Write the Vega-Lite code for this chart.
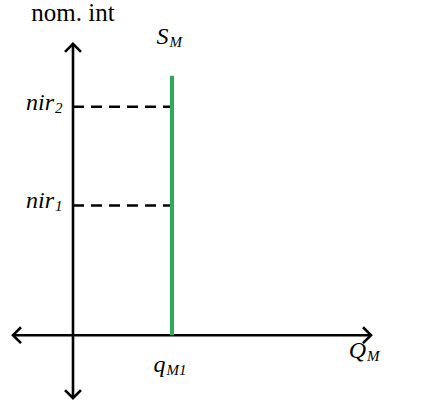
{
  "$schema": "https://vega.github.io/schema/vega-lite/v6.json",
  "width": 424,
  "height": 414,
  "autosize": {"type": "fit", "contains": "padding"},
  "padding": 0,
  "background": "white",
  "config": {"view": {"stroke": null}},
  "datasets": {
    "axes": [
      {"name": "vertical", "x": 0, "x2": 0, "y": -63, "y2": 292},
      {"name": "horizontal", "x": -60, "x2": 298, "y": 0, "y2": 0}
    ],
    "heads": [
      {"head": "top", "o": 1, "x": -8, "y": 284},
      {"head": "top", "o": 2, "x": 0, "y": 292},
      {"head": "top", "o": 3, "x": 8, "y": 284},
      {"head": "bottom", "o": 1, "x": -8, "y": -55},
      {"head": "bottom", "o": 2, "x": 0, "y": -63},
      {"head": "bottom", "o": 3, "x": 8, "y": -55},
      {"head": "left", "o": 1, "x": -52, "y": 8},
      {"head": "left", "o": 2, "x": -60, "y": 0},
      {"head": "left", "o": 3, "x": -52, "y": -8},
      {"head": "right", "o": 1, "x": 290, "y": 8},
      {"head": "right", "o": 2, "x": 298, "y": 0},
      {"head": "right", "o": 3, "x": 290, "y": -8}
    ],
    "dashes": [
      {"rate": "nir1", "x": 0, "x2": 99, "y": 130},
      {"rate": "nir2", "x": 0, "x2": 99, "y": 229}
    ],
    "supply": [
      {"curve": "S_M", "x": 99, "y": 0, "y2": 260}
    ],
    "labels": [
      {"main": "nir", "sub": "2", "x": -19, "y": 226},
      {"main": "nir", "sub": "1", "x": -19, "y": 127},
      {"main": "S", "sub": "M", "x": 95.5, "y": 292},
      {"main": "q", "sub": "M1", "x": 92.5, "y": -37},
      {"main": "Q", "sub": "M", "x": 293, "y": -23}
    ],
    "title": [
      {"text": "nom. int", "x": 0, "y": 315}
    ]
  },
  "layer": [
    {
      "data": {"name": "axes"},
      "mark": {"type": "rule", "color": "black", "strokeWidth": 2.6},
      "encoding": {
        "x": {"field": "x", "type": "quantitative", "scale": {"domain": [-73, 351], "nice": false, "zero": false}, "axis": null},
        "x2": {"field": "x2"},
        "y": {"field": "y", "type": "quantitative", "scale": {"domain": [-79, 335], "nice": false, "zero": false}, "axis": null},
        "y2": {"field": "y2"}
      }
    },
    {
      "data": {"name": "heads"},
      "mark": {"type": "line", "color": "black", "strokeWidth": 2.6, "strokeJoin": "miter"},
      "encoding": {
        "x": {"field": "x", "type": "quantitative"},
        "y": {"field": "y", "type": "quantitative"},
        "detail": {"field": "head"},
        "order": {"field": "o"}
      }
    },
    {
      "data": {"name": "dashes"},
      "mark": {"type": "rule", "color": "black", "strokeWidth": 2.4, "strokeDash": [11, 7]},
      "encoding": {
        "x": {"field": "x", "type": "quantitative"},
        "x2": {"field": "x2"},
        "y": {"field": "y", "type": "quantitative"}
      }
    },
    {
      "data": {"name": "supply"},
      "mark": {"type": "rule", "color": "#2eaa5a", "strokeWidth": 4},
      "encoding": {
        "x": {"field": "x", "type": "quantitative"},
        "y": {"field": "y", "type": "quantitative"},
        "y2": {"field": "y2"}
      }
    },
    {
      "data": {"name": "labels"},
      "mark": {"type": "text", "font": "Liberation Serif", "fontStyle": "italic", "fontSize": 24, "align": "right", "baseline": "alphabetic", "color": "black"},
      "encoding": {
        "x": {"field": "x", "type": "quantitative"},
        "y": {"field": "y", "type": "quantitative"},
        "text": {"field": "main"}
      }
    },
    {
      "data": {"name": "labels"},
      "mark": {"type": "text", "font": "Liberation Serif", "fontStyle": "italic", "fontSize": 15, "align": "left", "baseline": "alphabetic", "dx": 1, "dy": 3, "color": "black"},
      "encoding": {
        "x": {"field": "x", "type": "quantitative"},
        "y": {"field": "y", "type": "quantitative"},
        "text": {"field": "sub"}
      }
    },
    {
      "data": {"name": "title"},
      "mark": {"type": "text", "font": "Liberation Serif", "fontSize": 25, "align": "center", "baseline": "alphabetic", "color": "black"},
      "encoding": {
        "x": {"field": "x", "type": "quantitative"},
        "y": {"field": "y", "type": "quantitative"},
        "text": {"field": "text"}
      }
    }
  ]
}
